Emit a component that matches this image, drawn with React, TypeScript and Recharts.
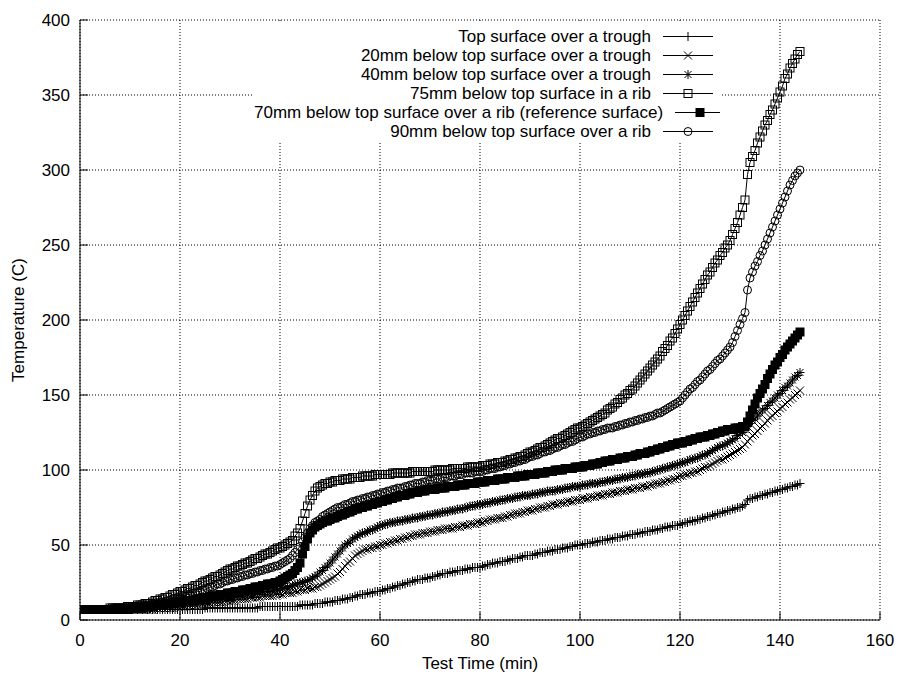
import React from 'react';
import { LineChart, Line, XAxis, YAxis, CartesianGrid, Legend } from 'recharts';

// thermocouple readings, logged every half minute from t = 0 to 144 min
const SAMPLE_STEP = 0.5;

const topTrough = [
    7, 7, 7, 7, 7, 7, 7, 7, 7, 7, 7, 7, 7, 7, 7, 7, 7, 7, 7, 7,
    7, 7, 7, 7, 7, 7, 7, 7, 7, 7, 7, 7, 7, 7, 7, 7, 7, 7, 7, 7,
    7, 7, 7, 7, 7, 7, 7, 7, 7, 7, 8, 8, 8, 8, 8, 8, 8, 8, 8, 8,
    8, 8, 8, 8, 8, 8, 8, 8, 8, 8, 8, 8, 9, 9, 9, 9, 9, 9, 9, 9,
    9, 9, 9, 9, 9, 9, 9, 9, 10, 10, 10, 10, 10, 10, 11, 11, 11, 11, 12, 12,
    12, 12, 13, 13, 13, 14, 14, 14, 15, 15, 16, 16, 17, 17, 17, 18, 18, 18, 19, 19,
    19, 20, 20, 21, 21, 22, 22, 23, 23, 24, 24, 25, 25, 26, 26, 27, 27, 27, 28, 28,
    28, 29, 29, 30, 30, 31, 31, 31, 32, 32, 32, 33, 33, 33, 34, 34, 34, 35, 35, 35,
    35, 36, 36, 37, 37, 38, 38, 38, 39, 39, 39, 40, 40, 41, 41, 41, 42, 42, 43, 43,
    43, 43, 44, 44, 45, 45, 45, 46, 46, 46, 47, 47, 47, 48, 48, 48, 49, 49, 50, 50,
    50, 50, 51, 51, 51, 52, 52, 52, 53, 53, 53, 54, 54, 54, 55, 55, 55, 56, 56, 56,
    57, 57, 57, 58, 58, 58, 59, 59, 59, 60, 60, 60, 61, 61, 62, 62, 62, 63, 63, 63,
    64, 64, 65, 65, 66, 66, 66, 67, 67, 68, 68, 69, 69, 70, 70, 71, 71, 72, 72, 73,
    73, 74, 74, 75, 75, 76, 77, 80, 81, 81, 82, 82, 83, 83, 84, 84, 85, 85, 86, 86,
    87, 87, 88, 88, 89, 89, 90, 90, 91,
];

const trough20mm = [
    7, 7, 7, 7, 7, 7, 7, 7, 7, 7, 7, 7, 7, 7, 7, 7, 7, 7, 7, 7,
    7, 7, 7, 7, 7, 7, 7, 7, 7, 7, 8, 8, 8, 8, 8, 8, 8, 8, 9, 9,
    9, 9, 9, 10, 10, 10, 10, 10, 11, 11, 11, 11, 11, 12, 12, 12, 12, 12, 13, 13,
    13, 13, 13, 14, 14, 14, 14, 14, 15, 15, 15, 15, 15, 16, 16, 16, 16, 16, 17, 17,
    17, 17, 18, 18, 18, 18, 19, 19, 20, 20, 20, 21, 21, 21, 22, 22, 23, 24, 25, 26,
    27, 28, 29, 31, 32, 34, 36, 38, 39, 41, 43, 44, 45, 46, 47, 47, 48, 48, 49, 49,
    50, 50, 51, 51, 52, 52, 53, 53, 54, 54, 55, 55, 56, 56, 57, 57, 57, 58, 58, 58,
    59, 59, 59, 60, 60, 60, 61, 61, 61, 61, 62, 62, 62, 63, 63, 63, 64, 64, 64, 65,
    65, 65, 66, 66, 67, 67, 67, 68, 68, 68, 69, 69, 70, 70, 71, 71, 71, 72, 72, 73,
    73, 73, 74, 74, 75, 75, 75, 76, 76, 77, 77, 77, 78, 78, 78, 79, 79, 79, 80, 80,
    80, 81, 81, 81, 82, 82, 82, 83, 83, 83, 84, 84, 84, 85, 85, 85, 86, 86, 86, 87,
    87, 87, 88, 88, 88, 89, 89, 89, 90, 90, 91, 91, 91, 92, 92, 93, 93, 94, 94, 95,
    96, 96, 97, 97, 98, 98, 99, 99, 100, 101, 102, 102, 103, 104, 105, 106, 107, 107, 108, 109,
    110, 111, 112, 113, 114, 115, 117, 119, 121, 123, 124, 126, 128, 129, 131, 133, 135, 136, 138, 139,
    141, 142, 144, 145, 147, 148, 150, 151, 153,
];

const trough40mm = [
    7, 7, 7, 7, 7, 7, 7, 7, 7, 7, 7, 7, 7, 7, 7, 7, 7, 7, 7, 7,
    8, 8, 8, 8, 8, 8, 8, 8, 8, 8, 9, 9, 9, 9, 9, 10, 10, 10, 10, 11,
    11, 11, 11, 11, 12, 12, 12, 12, 12, 13, 13, 13, 13, 14, 14, 14, 14, 14, 15, 15,
    15, 15, 16, 16, 16, 16, 17, 17, 17, 17, 18, 18, 18, 19, 19, 19, 19, 20, 20, 20,
    21, 21, 22, 22, 22, 23, 24, 24, 25, 25, 26, 26, 27, 28, 29, 30, 32, 33, 35, 36,
    38, 40, 42, 44, 46, 48, 50, 51, 52, 54, 55, 56, 57, 58, 58, 59, 60, 60, 61, 62,
    63, 63, 64, 64, 65, 65, 65, 66, 66, 66, 67, 67, 67, 68, 68, 68, 69, 69, 69, 70,
    70, 70, 71, 71, 71, 72, 72, 72, 73, 73, 73, 74, 74, 74, 75, 75, 76, 76, 76, 77,
    77, 77, 78, 78, 78, 79, 79, 79, 80, 80, 80, 81, 81, 81, 82, 82, 82, 83, 83, 83,
    83, 84, 84, 84, 85, 85, 85, 86, 86, 86, 86, 87, 87, 87, 88, 88, 88, 89, 89, 89,
    89, 90, 90, 90, 91, 91, 91, 91, 92, 92, 92, 93, 93, 93, 94, 94, 94, 95, 95, 95,
    96, 96, 96, 97, 97, 97, 98, 98, 98, 99, 99, 100, 100, 101, 101, 102, 102, 103, 103, 104,
    104, 105, 105, 106, 107, 107, 108, 108, 109, 110, 110, 111, 112, 113, 114, 115, 116, 116, 117, 118,
    119, 120, 121, 123, 124, 125, 127, 129, 131, 133, 134, 136, 138, 140, 141, 143, 145, 146, 148, 150,
    151, 153, 155, 156, 158, 160, 162, 163, 165,
];

const rib75mm = [
    7, 7, 7, 7, 7, 7, 7, 7, 7, 7, 7, 7, 8, 8, 8, 8, 8, 8, 8, 9,
    9, 9, 9, 10, 10, 10, 11, 11, 11, 12, 13, 13, 14, 14, 15, 15, 16, 17, 17, 18,
    19, 19, 20, 21, 21, 22, 23, 23, 24, 25, 26, 26, 27, 28, 29, 29, 30, 31, 32, 33,
    34, 34, 35, 36, 36, 37, 38, 38, 39, 40, 41, 41, 42, 43, 44, 44, 45, 46, 47, 48,
    48, 49, 50, 51, 52, 53, 56, 58, 61, 66, 71, 76, 80, 83, 86, 88, 89, 90, 91, 91,
    92, 92, 93, 93, 93, 94, 94, 94, 94, 95, 95, 95, 95, 96, 96, 96, 96, 96, 97, 97,
    97, 97, 97, 97, 97, 98, 98, 98, 98, 98, 98, 98, 98, 99, 99, 99, 99, 99, 99, 99,
    99, 99, 100, 100, 100, 100, 100, 100, 100, 101, 101, 101, 101, 101, 101, 102, 102, 102, 102, 102,
    102, 103, 103, 103, 104, 104, 104, 105, 105, 105, 106, 106, 107, 107, 108, 108, 109, 109, 110, 111,
    112, 112, 113, 114, 115, 115, 116, 117, 118, 119, 120, 121, 121, 122, 123, 124, 125, 126, 127, 128,
    128, 129, 130, 131, 132, 133, 134, 135, 136, 137, 138, 140, 141, 142, 144, 145, 147, 148, 150, 151,
    153, 154, 156, 158, 160, 162, 164, 166, 168, 170, 172, 174, 176, 179, 181, 183, 186, 188, 191, 194,
    197, 200, 203, 206, 209, 212, 215, 218, 221, 224, 227, 230, 232, 235, 238, 240, 243, 245, 248, 250,
    253, 257, 261, 265, 270, 275, 280, 297, 305, 309, 313, 318, 322, 326, 330, 333, 337, 340, 344, 348,
    352, 356, 361, 364, 368, 371, 374, 377, 379,
];

const rib70mmRef = [
    7, 7, 7, 7, 7, 7, 7, 7, 7, 7, 7, 7, 7, 7, 7, 7, 7, 7, 7, 7,
    8, 8, 8, 8, 8, 8, 9, 9, 9, 9, 10, 10, 10, 10, 11, 11, 11, 11, 12, 12,
    12, 12, 13, 13, 13, 13, 14, 14, 14, 15, 15, 15, 16, 16, 16, 16, 17, 17, 17, 18,
    18, 18, 19, 19, 19, 20, 20, 20, 21, 21, 22, 22, 22, 23, 23, 24, 24, 24, 25, 25,
    26, 27, 28, 29, 30, 31, 33, 35, 38, 44, 49, 54, 58, 60, 62, 63, 64, 65, 66, 66,
    67, 68, 68, 69, 70, 70, 71, 72, 72, 73, 74, 74, 75, 75, 76, 76, 77, 77, 78, 78,
    79, 79, 80, 80, 81, 81, 82, 82, 83, 83, 83, 84, 84, 85, 85, 85, 86, 86, 86, 87,
    87, 87, 87, 88, 88, 88, 88, 89, 89, 89, 89, 90, 90, 90, 90, 91, 91, 91, 91, 92,
    92, 92, 92, 93, 93, 93, 93, 94, 94, 94, 94, 95, 95, 95, 95, 96, 96, 96, 96, 97,
    97, 97, 97, 98, 98, 98, 98, 99, 99, 99, 100, 100, 100, 100, 101, 101, 101, 101, 102, 102,
    102, 102, 103, 103, 103, 104, 104, 104, 105, 105, 106, 106, 106, 107, 107, 107, 108, 108, 108, 109,
    109, 109, 110, 110, 111, 111, 111, 112, 112, 113, 113, 114, 114, 115, 115, 116, 116, 117, 117, 118,
    118, 118, 119, 119, 120, 120, 121, 121, 122, 122, 122, 123, 123, 124, 124, 125, 125, 126, 126, 127,
    127, 127, 128, 128, 128, 129, 129, 132, 136, 140, 144, 148, 151, 154, 157, 161, 164, 167, 170, 172,
    175, 177, 180, 182, 184, 186, 188, 190, 192,
];

const rib90mm = [
    7, 7, 7, 7, 7, 7, 7, 7, 7, 7, 7, 7, 7, 7, 8, 8, 8, 8, 8, 8,
    8, 8, 9, 9, 9, 9, 10, 10, 10, 11, 11, 11, 12, 12, 12, 13, 13, 14, 14, 15,
    15, 16, 16, 17, 17, 18, 18, 19, 19, 20, 20, 21, 22, 22, 23, 24, 24, 25, 26, 26,
    27, 27, 28, 28, 29, 29, 30, 30, 31, 31, 32, 32, 33, 33, 34, 34, 35, 35, 36, 36,
    37, 38, 39, 40, 41, 43, 45, 47, 49, 52, 55, 58, 61, 63, 65, 66, 67, 69, 70, 71,
    72, 73, 74, 75, 75, 76, 77, 77, 78, 79, 79, 80, 80, 81, 81, 82, 82, 83, 83, 84,
    84, 85, 85, 86, 86, 87, 87, 88, 88, 88, 89, 89, 90, 90, 91, 91, 91, 92, 92, 93,
    93, 93, 94, 94, 94, 95, 95, 95, 96, 96, 96, 97, 97, 97, 98, 98, 98, 98, 99, 99,
    99, 99, 100, 100, 101, 101, 101, 102, 102, 103, 103, 104, 104, 105, 105, 106, 106, 107, 107, 108,
    109, 109, 110, 110, 111, 112, 112, 113, 113, 114, 115, 115, 116, 117, 117, 118, 119, 119, 120, 121,
    122, 122, 123, 124, 124, 125, 125, 126, 126, 127, 127, 128, 128, 128, 129, 129, 130, 130, 131, 131,
    132, 132, 133, 133, 134, 134, 135, 135, 136, 136, 137, 138, 138, 139, 140, 141, 142, 143, 144, 145,
    146, 148, 150, 152, 154, 155, 157, 159, 160, 162, 164, 166, 167, 169, 171, 173, 174, 176, 178, 180,
    182, 185, 189, 193, 197, 201, 205, 220, 228, 232, 236, 239, 243, 246, 250, 254, 258, 262, 266, 270,
    274, 278, 282, 286, 290, 293, 296, 298, 300,
];

const TIME_TICKS = [0, 20, 40, 60, 80, 100, 120, 140, 160];
const TEMP_TICKS = [0, 50, 100, 150, 200, 250, 300, 350, 400];

type MarkKind = 'plus' | 'cross' | 'star' | 'square' | 'filledSquare' | 'circle';

const SERIES: { key: string; label: string; values: number[]; mark: MarkKind }[] = [
    { key: 'top', label: 'Top surface over a trough', values: topTrough, mark: 'plus' },
    { key: 't20', label: '20mm below top surface over a trough', values: trough20mm, mark: 'cross' },
    { key: 't40', label: '40mm below top surface over a trough', values: trough40mm, mark: 'star' },
    { key: 'r75', label: '75mm below top surface in a rib', values: rib75mm, mark: 'square' },
    { key: 'r70', label: '70mm below top surface over a rib (reference surface)', values: rib70mmRef, mark: 'filledSquare' },
    { key: 'r90', label: '90mm below top surface over a rib', values: rib90mm, mark: 'circle' },
];

const chartData = topTrough.map((_, i) => {
    const row: { [key: string]: number } = { t: i * SAMPLE_STEP };
    SERIES.forEach(s => {
        row[s.key] = s.values[i];
    });
    return row;
});

const FONT = '"Liberation Sans", Arial, Helvetica, sans-serif';
const FONT_SIZE = 17;

// gnuplot-like point types, roughly 8px across
const Mark = ({ kind, x, y }: { kind: MarkKind; x: number; y: number }) => {
    const h = 4;
    switch (kind) {
        case 'plus':
            return <path d={`M${x - 4.5},${y}h9M${x},${y - 4.5}v9`} stroke="#000" fill="none" />;
        case 'cross':
            return <path d={`M${x - 4},${y - 4}l8,8M${x - 4},${y + 4}l8,-8`} stroke="#000" fill="none" />;
        case 'star':
            return (
                <path
                    d={`M${x - 4.5},${y}h9M${x},${y - 4.5}v9M${x - 3.5},${y - 3.5}l7,7M${x - 3.5},${y + 3.5}l7,-7`}
                    stroke="#000"
                    fill="none"
                />
            );
        case 'square':
            return <rect x={x - h} y={y - h} width={2 * h} height={2 * h} stroke="#000" fill="none" />;
        case 'filledSquare':
            return <rect x={x - h} y={y - h} width={2 * h} height={2 * h} stroke="#000" fill="#000" />;
        default:
            return <circle cx={x} cy={y} r={h} stroke="#000" fill="none" />;
    }
};

const renderDot = (key: string, kind: MarkKind) => (props: any) => {
    if (props.cx == null || props.cy == null) return <g key={`${key}-${props.index}`} />;
    return (
        <g key={`${key}-${props.index}`}>
            <Mark kind={kind} x={props.cx} y={props.cy} />
        </g>
    );
};

const KeyBox = () => (
    <div style={{ background: '#fff', paddingTop: 5, width: 466, fontFamily: FONT, fontSize: FONT_SIZE }}>
        {SERIES.map(s => (
            <div key={s.key} style={{ display: 'flex', alignItems: 'center', height: 19, lineHeight: '19px' }}>
                <span style={{ flex: 1, textAlign: 'right', color: '#000', whiteSpace: 'nowrap' }}>{s.label}</span>
                <svg width={69} height={19} style={{ display: 'block' }}>
                    <line x1={12} x2={62} y1={9.5} y2={9.5} stroke="#000" />
                    <Mark kind={s.mark} x={37} y={9.5} />
                </svg>
            </div>
        ))}
    </div>
);

const XTitle = (props: any) => {
    const vb = props.viewBox || { x: 80, y: 620, width: 800 };
    return (
        <text x={vb.x + vb.width / 2} y={vb.y + 49} textAnchor="middle" fontFamily={FONT} fontSize={FONT_SIZE} fill="#000">
            Test Time (min)
        </text>
    );
};

const YTitle = (props: any) => {
    const vb = props.viewBox || { x: 0, y: 20, height: 600 };
    const cx = vb.x + 18;
    const cy = vb.y + vb.height / 2;
    return (
        <text
            x={cx}
            y={cy}
            transform={`rotate(-90 ${cx} ${cy})`}
            textAnchor="middle"
            dominantBaseline="central"
            fontFamily={FONT}
            fontSize={FONT_SIZE}
            fill="#000"
        >
            Temperature (C)
        </text>
    );
};

const tickStyle = { fill: '#000', fontSize: FONT_SIZE, fontFamily: FONT };

const App: React.FC = () => (
    <div style={{ position: 'absolute', left: 0, top: 0, width: 900, height: 681, background: '#fff' }}>
        <LineChart width={900} height={681} data={chartData} margin={{ top: 20, right: 20, bottom: 0, left: 0 }}>
            <CartesianGrid stroke="#000" strokeDasharray="1 2" />
            <XAxis
                dataKey="t"
                type="number"
                domain={[0, 160]}
                ticks={TIME_TICKS}
                interval={0}
                allowDataOverflow
                height={61}
                tickSize={-8}
                tickMargin={22}
                tick={tickStyle}
                tickLine={{ stroke: '#000' }}
                axisLine={{ stroke: '#000' }}
                label={{ content: XTitle }}
            />
            <XAxis
                xAxisId="top"
                orientation="top"
                type="number"
                domain={[0, 160]}
                ticks={TIME_TICKS}
                interval={0}
                allowDataOverflow
                height={0}
                tickSize={-8}
                tick={false}
                tickLine={{ stroke: '#000' }}
                axisLine={{ stroke: '#000' }}
            />
            <YAxis
                type="number"
                domain={[0, 400]}
                ticks={TEMP_TICKS}
                interval={0}
                allowDataOverflow
                width={80}
                tickSize={-8}
                tickMargin={18}
                tick={tickStyle}
                tickLine={{ stroke: '#000' }}
                axisLine={{ stroke: '#000' }}
                label={{ content: YTitle }}
            />
            <YAxis
                yAxisId="right"
                orientation="right"
                type="number"
                domain={[0, 400]}
                ticks={TEMP_TICKS}
                interval={0}
                allowDataOverflow
                width={0}
                tickSize={-8}
                tick={false}
                tickLine={{ stroke: '#000' }}
                axisLine={{ stroke: '#000' }}
            />
            {SERIES.map(s => (
                <Line
                    key={s.key}
                    dataKey={s.key}
                    name={s.label}
                    type="linear"
                    stroke="#000"
                    strokeWidth={1}
                    dot={renderDot(s.key, s.mark)}
                    activeDot={false}
                    isAnimationActive={false}
                />
            ))}
            <Legend
                layout="vertical"
                align="center"
                verticalAlign="middle"
                content={KeyBox}
                wrapperStyle={{ left: 254, top: 22, width: 466 }}
            />
        </LineChart>
    </div>
);

export default App;
